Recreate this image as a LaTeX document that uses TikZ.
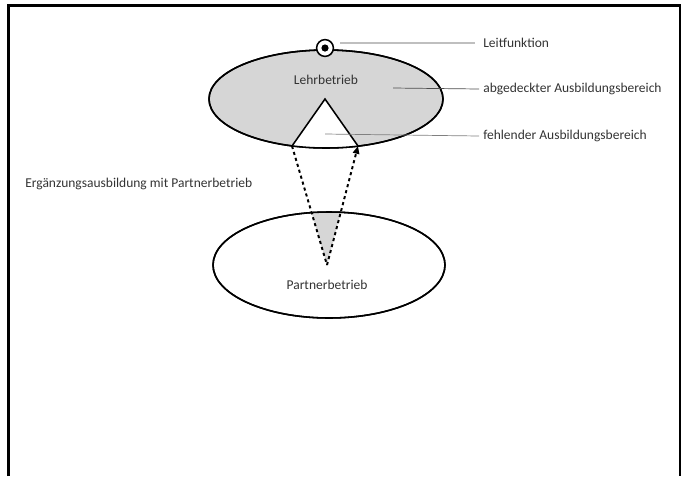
\documentclass[tikz,border=0pt]{standalone}
\usepackage{fontspec}
\setmainfont{Carlito}
\usetikzlibrary{shapes.geometric,arrows.meta}

\begin{document}
\begin{tikzpicture}[x=0.025cm,y=-0.025cm,
	rotulo/.style={font=\fontsize{9.6}{11}\selectfont, text=black!80, inner sep=0pt},
	linha/.style={line width=1.1pt}]

	\useasboundingbox (0,0) rectangle (683,476);

	\def\lehrx{326};
	\def\lehry{99};
	\def\partnerx{329};
	\def\partnery{265};

	% Rahmen
	\draw[line width=1.9pt] (8.5,476) -- (8.5,5.5) -- (680,5.5) -- (680,476);

	\coordinate (spitze) at (325,99);
	\coordinate (links) at (292,146);
	\coordinate (rechts) at (358,146);
	\coordinate (unten) at (327,265);

	% Partnerbetrieb
	\draw[linha, fill=white] (\partnerx,\partnery) ellipse [x radius=116, y radius=53];
	\begin{scope}
		\clip (\partnerx,\partnery) ellipse [x radius=116, y radius=53];
		\fill[black!16] (links) -- (unten) -- (rechts) -- cycle;
	\end{scope}
	\draw[linha] (\partnerx,\partnery) ellipse [x radius=116, y radius=53];
	\node[rotulo] (partner) at (327,285) {Partnerbetrieb};

	% Lehrbetrieb
	\draw[linha, fill=black!16] (\lehrx,\lehry) ellipse [x radius=117, y radius=49];
	\begin{scope}
		\clip (\lehrx,\lehry) ellipse [x radius=117, y radius=49];
		\fill[white] (spitze) -- (links) -- (285,160) -- (365,160) -- (rechts) -- cycle;
	\end{scope}
	\draw[linha] (\lehrx,\lehry) ellipse [x radius=117, y radius=49];
	\draw[linha] (links) -- (spitze) -- (rechts);
	\node[rotulo] (lehr) at (326,80) {Lehrbetrieb};

	% Leitfunktion
	\node[circle, draw, linha, fill=white, minimum size=0.42cm, inner sep=0pt] (leit) at (325,48) {};
	\fill (leit.center) circle [radius=3.6];

	% Ergaenzung
	\draw[line width=1.4pt, dash pattern=on 2.2pt off 2.2pt] (links) -- (unten);
	\draw[line width=1.4pt, dash pattern=on 2.2pt off 2.2pt, -{Triangle[length=5.5pt, width=4.5pt]}] (unten) -- (rechts);

	% Beschriftungen
	\node[rotulo, anchor=west] (lleit) at (483,43) {Leitfunktion};
	\node[rotulo, anchor=west] (labg) at (483,89) {abgedeckter Ausbildungsbereich};
	\node[rotulo, anchor=west] (lfehl) at (483,136) {fehlender Ausbildungsbereich};
	\node[rotulo, anchor=west] (lerg) at (25,184) {Ergänzungsausbildung mit Partnerbetrieb};

	\coordinate (pleit) at (340,43);
	\coordinate (pabg) at (393,88);
	\coordinate (pfehl) at (325,134);
	\draw[black!25, line width=0.8pt] (pleit) -- ([xshift=-0.2cm]lleit.west);
	\draw[black!70, line width=0.5pt] (pabg) -- ([xshift=-0.1cm]labg.west);
	\draw[black!50, line width=0.5pt] (pfehl) -- ([xshift=-0.1cm]lfehl.west);

\end{tikzpicture}
\end{document}
